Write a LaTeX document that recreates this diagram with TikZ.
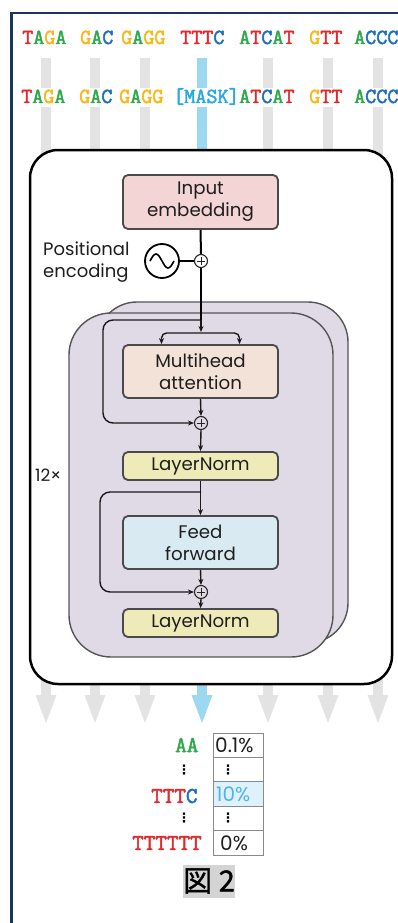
\documentclass[tikz,border=0pt]{standalone}
\usepackage{fontspec}
\setmainfont{Poppins}
\newfontfamily\dnafont{Latin Modern Mono}[FakeBold=2.2]
\newfontfamily\cjkfont{Noto Sans CJK JP}[FakeBold=1.3]
\newfontfamily\symfont{DejaVu Sans}
\usetikzlibrary{arrows.meta,calc}

\definecolor{dnaR}{HTML}{E8262A}
\definecolor{dnaG}{HTML}{2EA84C}
\definecolor{dnaY}{HTML}{F9B818}
\definecolor{dnaB}{HTML}{1E6EBF}
\definecolor{maskblue}{HTML}{2AA8E2}
\definecolor{barblue}{HTML}{9DD8F2}
\definecolor{bargray}{HTML}{E3E3E3}
\definecolor{framenavy}{HTML}{1C355E}
\definecolor{boxline}{HTML}{4A4A4A}
\definecolor{lavender}{HTML}{E0D9E6}
\definecolor{lavline}{HTML}{555555}
\definecolor{embfill}{HTML}{F3D5D5}
\definecolor{mhafill}{HTML}{F3E2D8}
\definecolor{lnfill}{HTML}{EEEBB8}
\definecolor{fffill}{HTML}{D9EAF2}
\definecolor{cellline}{HTML}{8A8A8A}
\definecolor{pctblue}{HTML}{4DB6E8}
\definecolor{pctfill}{HTML}{DFF2FB}
\definecolor{figgray}{HTML}{D4D4D4}
\definecolor{ink}{HTML}{1E1E1E}

% nucleotide letters
\newcommand\ntA{\textcolor{dnaG}{A}}
\newcommand\ntT{\textcolor{dnaR}{T}}
\newcommand\ntG{\textcolor{dnaY}{G}}
\newcommand\ntC{\textcolor{dnaB}{C}}

\tikzset{
  seq/.style={anchor=base west, inner sep=0pt, font=\dnafont\fontsize{21.5}{22}\selectfont},
  blk/.style={draw=boxline, line width=1.8pt, rounded corners=5pt, minimum width=155pt,
    align=center, inner sep=0pt, font=\fontsize{18.2}{22}\selectfont, text=ink},
  addnode/.style={circle, draw=black!85, line width=1.1pt, minimum size=13pt, inner sep=0pt,
    path picture={
      \draw[line width=1pt] ([xshift=-4pt]path picture bounding box.center) -- ([xshift=4pt]path picture bounding box.center);
      \draw[line width=1pt] ([yshift=-4pt]path picture bounding box.center) -- ([yshift=4pt]path picture bounding box.center);}},
  flow/.style={line width=1.4pt, black!90, -{Stealth[length=6pt,width=5pt]}},
  cell/.style={draw=cellline, line width=1pt, minimum width=50pt, minimum height=24.4pt, inner sep=0pt},
  pct/.style={anchor=west, inner sep=0pt, font=\fontsize{20}{21}\selectfont, text=ink},
  dots/.style={inner sep=0pt, font=\symfont\bfseries\fontsize{13}{14}\selectfont},
}

\begin{document}
\begin{tikzpicture}[x=1pt, y=-1pt]
\useasboundingbox (0,0) rectangle (398,923);
\fill[white] (0,0) rectangle (398,923);

% outer frame
\draw[framenavy, line width=2.5pt] (11.5,923) -- (11.5,13) -- (398,13);

% token columns
\foreach \cx/\col in {46/bargray, 95/bargray, 145/bargray, 202/barblue, 268/bargray, 328/bargray, 378/bargray} {
  \fill[\col] (\cx-5,58) rectangle (\cx+5,88);
  \fill[\col] (\cx-5,107) rectangle (\cx+5,696);
  \fill[\col] (\cx-10.5,695) -- (\cx+10.5,695) -- (\cx,723) -- cycle;
}

% input sequence
\node[seq] (s1) at (22,44) {\ntT\ntA\ntG\ntA};
\node[seq] (s2) at (80,44) {\ntG\ntA\ntC};
\node[seq] (s3) at (121,44) {\ntG\ntA\ntG\ntG};
\node[seq] (s4) at (180,44) {\ntT\ntT\ntT\ntC};
\node[seq] (s5) at (239,44) {\ntA\ntT\ntC\ntA\ntT};
\node[seq] (s6) at (309,44) {\ntG\ntT\ntT};
\node[seq] (s7) at (354,44) {\ntA\ntC\ntC\ntC};

% masked sequence
\node[seq] (m1) at (21,103) {\ntT\ntA\ntG\ntA};
\node[seq] (m2) at (79,103) {\ntG\ntA\ntC};
\node[seq] (m3) at (119,103) {\ntG\ntA\ntG\ntG};
\node[seq, text=maskblue] (m4) at (173,103) {[MASK]};
\node[seq] (m5) at (239,103) {\ntA\ntT\ntC\ntA\ntT};
\node[seq] (m6) at (309,103) {\ntG\ntT\ntT};
\node[seq] (m7) at (354,103) {\ntA\ntC\ntC\ntC};

% encoder panel
\draw[black, line width=2.5pt, fill=white, rounded corners=28pt] (30,150) rectangle (392,684);

% stacked layers
\draw[lavline, line width=1.4pt, fill=lavender, rounded corners=40pt] (97,302) rectangle (348,643);
\draw[lavline, line width=1.4pt, fill=lavender, rounded corners=42pt] (69,313) rectangle (333,657);

\node[blk, fill=embfill, minimum height=54pt] (inp) at (200.5,202) {Input\\embedding};
\node[blk, fill=mhafill, minimum height=53pt] (mha) at (200.5,371.5) {Multihead\\attention};
\node[blk, fill=lnfill, minimum height=28pt] (ln1) at (200.5,466) {LayerNorm};
\node[blk, fill=fffill, minimum height=53pt] (ff) at (200.5,542.5) {Feed\\forward};
\node[blk, fill=lnfill, minimum height=28pt] (ln2) at (200.5,623) {LayerNorm};

% positional encoding
\node[addnode, fill=white] (pe) at (201,261) {};
\node[circle, draw=black, line width=1.8pt, minimum size=34pt, inner sep=0pt] (sig) at (162,261) {};
\draw[line width=1.6pt] ([xshift=-12pt]sig.center) sin ([xshift=-6pt,yshift=7pt]sig.center)
  cos (sig.center) sin ([xshift=6pt,yshift=-7pt]sig.center) cos ([xshift=12pt]sig.center);
\node[anchor=west, align=left, inner sep=0pt, font=\fontsize{18}{21.5}\selectfont, text=ink]
  (pelabel) at (43,262) {Positional\\encoding};
\draw[line width=2pt] (inp.south) -- (pe.north);
\draw[line width=2pt] (sig.east) -- (pe.west);

% attention sub-block
\node[addnode] (p1) at (201,423) {};
\coordinate (fork1) at (201,320);
\coordinate (split) at (201,333);
\draw[line width=1.4pt] (pe.south) -- (fork1);
\draw[flow] (fork1) -- ([yshift=1pt]split);
\draw[flow, rounded corners=5pt] (split) -| ([xshift=-39pt]mha.north);
\draw[flow, rounded corners=5pt] (split) -| ([xshift=39pt]mha.north);
\draw[flow, rounded corners=10pt] (fork1) -- (103,320) -- (103,423) -- (p1.west);
\draw[flow] (mha.south) -- (p1.north);
\draw[flow] (p1.south) -- (ln1.north);

% feed-forward sub-block
\node[addnode] (p2) at (201,592) {};
\coordinate (fork2) at (201,492);
\draw[flow] (ln1.south) -- (ff.north);
\draw[flow, rounded corners=10pt] (fork2) -- (100,492) -- (100,592) -- (p2.west);
\draw[flow] (ff.south) -- (p2.north);
\draw[flow] (p2.south) -- (ln2.north);

\node[anchor=west, inner sep=0pt, font=\fontsize{17}{18}\selectfont, text=ink] (rep) at (35,475) {12×};

% prediction table
\node[cell] (c1) at (238,745.2) {};
\node[cell] (c2) at (238,769.6) {};
\node[cell, fill=pctfill] (c3) at (238,794) {};
\node[cell] (c4) at (238,818.4) {};
\node[cell] (c5) at (238,842.8) {};
\node[pct] (v1) at (215,745) {0.1\%};
\node[dots] (v2) at (228,770) {⋮};
\node[pct, text=pctblue] (v3) at (216,794) {10\%};
\node[dots] (v4) at (228,818) {⋮};
\node[pct] (v5) at (220,843) {0\%};

\node[seq, anchor=west, font=\dnafont\fontsize{22.5}{22}\selectfont] (k1) at (175,745) {\ntA\ntA};
\node[dots] (k2) at (184,770) {⋮};
\node[seq, anchor=west, font=\dnafont\fontsize{22.5}{22}\selectfont] (k3) at (151,796) {\ntT\ntT\ntT\ntC};
\node[dots] (k4) at (184,818) {⋮};
\node[seq, anchor=west, font=\dnafont\fontsize{22.5}{22}\selectfont] (k5) at (132,843) {\ntT\ntT\ntT\ntT\ntT\ntT};

% caption
\node[fill=figgray, minimum width=52pt, minimum height=33pt, inner sep=0pt,
  font=\cjkfont\fontsize{29}{30}\selectfont] (fig) at (209,881) {図 2};
\end{tikzpicture}
\end{document}
